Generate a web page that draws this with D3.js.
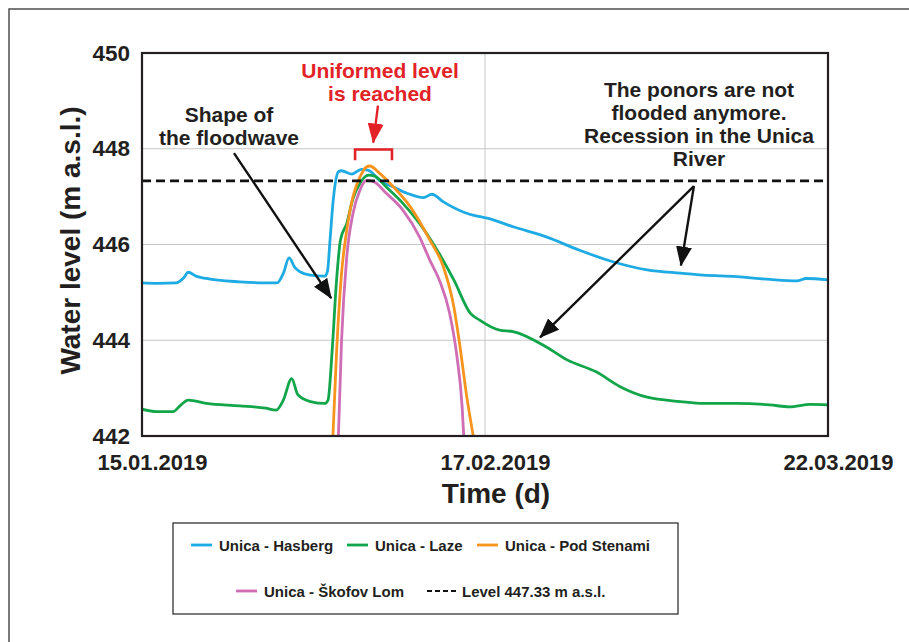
<!DOCTYPE html>
<html><head><meta charset="utf-8">
<script src="https://cdn.jsdelivr.net/npm/d3@7"></script>
<style>
body{margin:0;background:#fff}
text{font-family:"Liberation Sans",Arial,Helvetica,sans-serif;font-weight:bold}
</style>
</head><body>
<svg id="chart" width="909" height="642"></svg>
<script>
// ---------- data ----------
const dateTickDays = [0, 33, 66];              // days after 15.01.2019
const dateLabels = ["15.01.2019", "17.02.2019", "22.03.2019"];
const yTicks = [442, 444, 446, 448, 450];
const thresholdLevel = 447.33;

const hasbergDays  = [0,1.5,3.3,4.0,4.45,5.2,6.2,9.4,11.5,13,13.6,14.15,14.7,15.2,16.2,17.6,17.85,18.09,18.4,18.9,19.2,20.2,21.1,21.8,22.9,24.2,25.5,27.1,27.9,29,30.9,32.5,33.2,35.7,38.9,42.1,45.3,48.6,51.8,54,57.2,60.4,63,63.9,66];
const hasbergLevel = [445.2,445.19,445.2,445.3,445.42,445.34,445.29,445.22,445.2,445.2,445.4,445.72,445.52,445.43,445.36,445.34,445.45,446.09,446.93,447.52,447.54,447.47,447.57,447.55,447.33,447.2,447.07,446.98,447.05,446.89,446.68,446.58,446.55,446.37,446.16,445.88,445.64,445.47,445.40,445.36,445.33,445.27,445.24,445.29,445.26];

const lazeDays  = [0,1.4,3.0,3.6,4.45,6.2,9.4,11.9,12.9,13.6,14.4,15.0,16.2,17.6,17.9,18.3,18.7,19.1,19.7,20.3,20.97,21.8,22.4,23.5,25.1,26.7,28.4,30.0,31.6,32.5,34.4,35.7,38.9,40.9,43.7,46,48.6,51.8,54,57.2,60.4,62.3,64.3,66];
const lazeLevel = [442.56,442.51,442.51,442.62,442.75,442.68,442.63,442.58,442.54,442.75,443.2,442.86,442.72,442.68,442.75,443.8,445.2,446.1,446.44,446.96,447.28,447.45,447.43,447.2,446.86,446.44,445.88,445.26,444.56,444.42,444.21,444.18,443.86,443.59,443.34,443.03,442.81,442.72,442.68,442.68,442.65,442.61,442.66,442.65];

const podStenamiDays  = [18.35,18.7,19.2,19.7,20.3,20.97,21.6,21.9,22.9,24.2,25.8,27.7,29,30,30.6,31.2,31.95];
const podStenamiLevel = [441.9,443.66,445.4,446.3,447.0,447.41,447.62,447.64,447.48,447.2,446.79,446.09,445.53,444.70,443.86,442.89,441.9];

const skofovDays  = [18.88,19.2,19.7,20.3,20.97,21.6,22.3,23.5,25.1,26.7,27.7,28.6,29.6,30.3,30.8,30.98];
const skofovLevel = [441.9,444.0,445.74,446.65,447.14,447.34,447.31,447.07,446.72,446.16,445.67,445.26,444.56,443.66,442.61,441.9];

const seriesNames = ["Unica - Hasberg", "Unica - Laze", "Unica - Pod Stenami", "Unica - Škofov Lom"];
const thresholdName = "Level 447.33 m a.s.l.";
const colors = ["#1eaae2", "#12a54a", "#f7941e", "#cf6db5"];

// ---------- chart ----------
const svg = d3.select("#chart");
const pL = 142, pR = 828, pT = 53, pB = 436;
const x = d3.scaleLinear().domain([0, 66]).range([pL, pR]);
const y = d3.scaleLinear().domain([442, 450]).range([pB, pT]);

svg.append("rect").attr("width", 909).attr("height", 642).attr("fill", "#fff");
// outer frame
svg.append("rect").attr("x", 9).attr("y", 9).attr("width", 940).attr("height", 700)
  .attr("fill", "none").attr("stroke", "#333").attr("stroke-width", 1.3);

const defs = svg.append("defs");
defs.append("clipPath").attr("id", "plotclip").append("rect")
  .attr("x", pL).attr("y", pT).attr("width", pR - pL).attr("height", pB - pT);
function marker(id, color) {
  defs.append("marker").attr("id", id).attr("markerUnits", "userSpaceOnUse")
    .attr("markerWidth", 20).attr("markerHeight", 16).attr("refX", 19).attr("refY", 8)
    .attr("orient", "auto").append("path").attr("d", "M0,0 L20,8 L0,16 Z").attr("fill", color);
}
marker("arrowK", "#111");
marker("arrowR", "#e32228");

// grid
svg.append("g").selectAll("line").data(yTicks.filter(v => v > 442 && v < 450)).join("line")
  .attr("x1", pL).attr("x2", pR).attr("y1", d => y(d)).attr("y2", d => y(d))
  .attr("stroke", "#c6c6c6").attr("stroke-width", 1);
svg.append("line").attr("x1", x(33)).attr("x2", x(33)).attr("y1", pT).attr("y2", pB)
  .attr("stroke", "#c6c6c6").attr("stroke-width", 1);

// axes
const yAxis = svg.append("g").attr("transform", `translate(${pL},0)`)
  .call(d3.axisLeft(y).tickValues(yTicks).tickFormat(d3.format("d")).tickSize(0).tickPadding(12));
yAxis.select(".domain").remove();
yAxis.selectAll("text").attr("font-size", 22.5).attr("fill", "#231f20")
  .style("font-family", '"Liberation Sans",Arial,sans-serif').style("font-weight", "bold");

const xAxis = svg.append("g").attr("transform", `translate(0,${pB})`)
  .call(d3.axisBottom(x).tickValues(dateTickDays).tickFormat((d, i) => dateLabels[i]).tickSize(0).tickPadding(18));
xAxis.select(".domain").remove();
xAxis.selectAll("text").attr("font-size", 22).attr("fill", "#231f20").attr("dx", 10)
  .style("font-family", '"Liberation Sans",Arial,sans-serif').style("font-weight", "bold");

// axis titles
svg.append("text").attr("transform", `translate(80,${(pT + pB) / 2 - 4}) rotate(-90)`)
  .attr("text-anchor", "middle").attr("font-size", 28).attr("fill", "#231f20")
  .text("Water level (m a.s.l.)");
svg.append("text").attr("x", 496).attr("y", 503).attr("text-anchor", "middle")
  .attr("font-size", 28).attr("fill", "#231f20").text("Time (d)");

// series
const series = [
  [hasbergDays, hasbergLevel],
  [lazeDays, lazeLevel],
  [podStenamiDays, podStenamiLevel],
  [skofovDays, skofovLevel]
];
const line = d3.line().x(d => x(d[0])).y(d => y(d[1])).curve(d3.curveMonotoneX);
const gS = svg.append("g").attr("clip-path", "url(#plotclip)");
series.forEach((s, i) => {
  gS.append("path").datum(d3.zip(s[0], s[1])).attr("d", line)
    .attr("fill", "none").attr("stroke", colors[i]).attr("stroke-width", 2.8)
    .attr("stroke-linejoin", "round");
});
// threshold
gS.append("line").attr("x1", pL).attr("x2", pR)
  .attr("y1", y(thresholdLevel)).attr("y2", y(thresholdLevel))
  .attr("stroke", "#111").attr("stroke-width", 2.6).attr("stroke-dasharray", "9,5");

// plot frame
svg.append("rect").attr("x", pL).attr("y", pT).attr("width", pR - pL).attr("height", pB - pT)
  .attr("fill", "none").attr("stroke", "#231f20").attr("stroke-width", 2.2);

// annotations (anchored in data units)
function arrow(d0, v0, d1, v1, id, color) {
  svg.append("line").attr("x1", x(d0)).attr("y1", y(v0)).attr("x2", x(d1)).attr("y2", y(v1))
    .attr("stroke", color).attr("stroke-width", 2.4).attr("marker-end", `url(#${id})`);
}
function label(lines, cx, yb, lh, color, size) {
  const t = svg.append("text").attr("text-anchor", "middle").attr("font-size", size).attr("fill", color);
  lines.forEach((l, i) => t.append("tspan").attr("x", cx).attr("y", yb + i * lh).text(l));
}
label(["Shape of", "the floodwave"], 229, 122, 22.5, "#231f20", 21);
arrow(8.85, 447.91, 18.2, 444.88, "arrowK", "#111");

label(["Uniformed level", "is reached"], 380, 78, 23, "#e32228", 21);
arrow(22.7, 448.9, 22.25, 448.13, "arrowR", "#e32228");
svg.append("path")
  .attr("d", `M${x(20.5)},${y(447.76)} V${y(447.985)} H${x(24.05)} V${y(447.76)}`)
  .attr("fill", "none").attr("stroke", "#e32228").attr("stroke-width", 2.6);

label(["The ponors are not", "flooded anymore.", "Recession in the Unica", "River"], 699, 97, 23, "#231f20", 21);
arrow(53.1, 447.22, 51.85, 445.56, "arrowK", "#111");
arrow(53.1, 447.22, 38.3, 444.06, "arrowK", "#111");

// legend
svg.append("rect").attr("x", 173).attr("y", 523).attr("width", 505).attr("height", 91)
  .attr("fill", "#fff").attr("stroke", "#333").attr("stroke-width", 1.3);
const legendItems = [
  {name: seriesNames[0], color: colors[0], lx: 191, ly: 545},
  {name: seriesNames[1], color: colors[1], lx: 347, ly: 545},
  {name: seriesNames[2], color: colors[2], lx: 477, ly: 545},
  {name: seriesNames[3], color: colors[3], lx: 236, ly: 591},
  {name: thresholdName, color: "#111", lx: 427, ly: 591, dash: true}
];
legendItems.forEach(it => {
  svg.append("line").attr("x1", it.lx).attr("x2", it.lx + (it.dash ? 30 : 21))
    .attr("y1", it.ly).attr("y2", it.ly).attr("stroke", it.color)
    .attr("stroke-width", it.dash ? 2.2 : 2.8).attr("stroke-dasharray", it.dash ? "5,3" : null);
  svg.append("text").attr("x", it.lx + (it.dash ? 35 : 28)).attr("y", it.ly + 5.5)
    .attr("font-size", 15).attr("fill", "#231f20").text(it.name);
});
</script>
</body></html>
